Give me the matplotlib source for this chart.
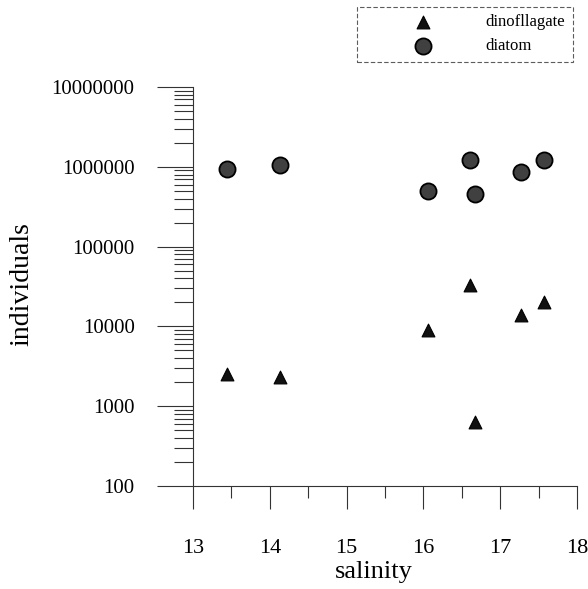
import matplotlib
matplotlib.use("Agg")
import matplotlib.pyplot as plt
from matplotlib.ticker import FixedLocator, FixedFormatter, LogLocator, NullFormatter

# data
salinity = [13.44, 14.13, 16.06, 16.61, 16.67, 17.27, 17.57]
dinoflagellate = [2500, 2350, 8900, 33000, 630, 14000, 20000]
diatom = [950000, 1050000, 500000, 1230000, 450000, 850000, 1230000]

x_ticks = [13, 14, 15, 16, 17, 18]
x_labels = ["13", "14", "15", "16", "17", "18"]
y_ticks = [100, 1000, 10000, 100000, 1000000, 10000000]
y_labels = ["100", "1000", "10000", "100000", "1000000", "10000000"]

plt.rcParams['font.family'] = ['Liberation Serif', 'DejaVu Serif']

W, H = 588, 589
fig = plt.figure(figsize=(W / 100, H / 100), dpi=100)
ax = fig.add_axes([193 / W, 1 - 486 / H, (577 - 193) / W, (486 - 87) / H])

ax.scatter(salinity, dinoflagellate, marker='^', s=85, c='#111111',
           edgecolors='black', linewidths=0.8, label='dinofllagate', zorder=3)
ax.scatter(salinity, diatom, marker='o', s=135, c='#404040',
           edgecolors='black', linewidths=1.3, label='diatom', zorder=3)

ax.set_yscale('log')
ax.set_xlim(13, 18)
ax.set_ylim(100, 1e7)

ax.spines['top'].set_visible(False)
ax.spines['right'].set_visible(False)
for s in ('left', 'bottom'):
    ax.spines[s].set_linewidth(0.8)
    ax.spines[s].set_color('#333333')

ax.xaxis.set_major_locator(FixedLocator(x_ticks))
ax.xaxis.set_major_formatter(FixedFormatter(x_labels))
ax.xaxis.set_minor_locator(FixedLocator([13.5, 14.5, 15.5, 16.5, 17.5]))
ax.yaxis.set_major_locator(FixedLocator(y_ticks))
ax.yaxis.set_major_formatter(FixedFormatter(y_labels))
ax.yaxis.set_minor_locator(LogLocator(base=10, subs=range(2, 10), numticks=20))
ax.yaxis.set_minor_formatter(NullFormatter())

ax.tick_params(axis='y', which='major', direction='out', length=26, width=0.8,
               color='#333333', pad=16, labelsize=15)
ax.tick_params(axis='y', which='minor', direction='out', length=14, width=0.8,
               color='#333333')
ax.tick_params(axis='x', which='major', direction='out', length=16.5, width=0.8,
               color='#333333', pad=22, labelsize=16)
ax.tick_params(axis='x', which='minor', direction='out', length=8.5, width=0.8,
               color='#333333')

fig.text(22 / W, 1 - 284 / H, 'individuals', rotation=90, fontsize=20,
         ha='center', va='center')
fig.text(374 / W, 1 - 572 / H, 'salinity', fontsize=19, ha='center', va='center')

leg = fig.legend(loc='upper right', bbox_to_anchor=(573 / W, 1 - 7 / H),
                 prop={'size': 12}, frameon=True,
                 fancybox=False, borderpad=0.45, handlelength=7.0,
                 handletextpad=0.3, labelspacing=0.45, borderaxespad=0,
                 scatterpoints=1, markerscale=1.0)
leg.get_frame().set_edgecolor('#333333')
leg.get_frame().set_linewidth(0.8)
leg.get_frame().set_linestyle((0, (4, 2)))

fig.savefig('out.png', dpi=100)
